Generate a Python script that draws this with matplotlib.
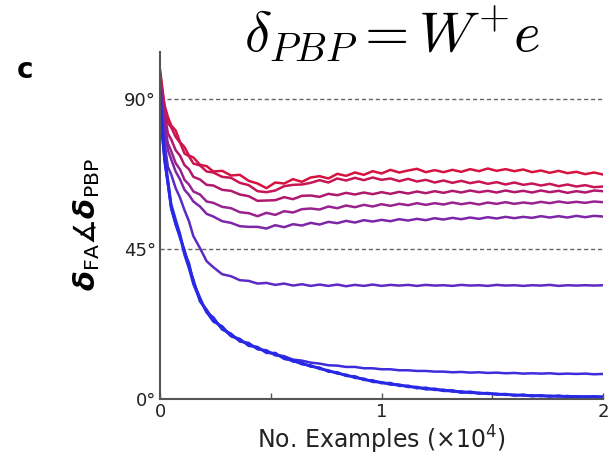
import matplotlib
matplotlib.use("Agg")
import matplotlib.pyplot as plt

# sample positions along the x axis (units of 10^4 examples)
x = [0, 0.01, 0.02, 0.035, 0.05, 0.07, 0.09, 0.11, 0.13, 0.15, 0.18, 0.21, 0.24,
     0.28, 0.32, 0.36, 0.40, 0.44, 0.48, 0.52, 0.56, 0.60, 0.64, 0.68, 0.72, 0.76,
     0.80, 0.84, 0.88, 0.92, 0.96, 1.00, 1.04, 1.08, 1.12, 1.16, 1.20, 1.24, 1.28,
     1.32, 1.36, 1.40, 1.44, 1.48, 1.52, 1.56, 1.60, 1.64, 1.68, 1.72, 1.76, 1.80,
     1.84, 1.88, 1.92, 1.96, 2.00]

# angle (degrees) for each run, top to bottom
run1 = [98.5, 93, 88, 84.5, 82, 80.5, 77, 75.5, 73, 72.4, 70.2, 69.8, 68.2,
        68.4, 67.0, 67.2, 65.4, 64.6, 63.2, 64.9, 64.6, 65.9, 65.1, 66.4, 66.8, 66.1,
        67.5, 66.9, 67.9, 67.2, 68.3, 67.6, 68.7, 67.9, 68.5, 69.0, 68.0, 68.6, 68.0,
        68.7, 68.1, 68.9, 68.3, 69.1, 68.4, 68.9, 68.3, 68.8, 68.0, 68.5, 67.8, 68.4,
        67.7, 68.1, 67.4, 67.9, 67.3]
run2 = [97.5, 92, 87.5, 82.8, 81.4, 78.6, 76.8, 73.6, 72.8, 70.6, 70.0, 68.2, 67.9,
        66.6, 66.3, 64.8, 64.1, 62.3, 62.0, 62.5, 63.8, 64.2, 64.3, 64.8, 65.6, 64.9,
        66.1, 65.5, 66.3, 65.6, 66.4, 65.7, 66.1, 65.3, 66.0, 65.2, 65.7, 64.9, 65.5,
        64.8, 65.4, 64.7, 65.2, 64.5, 65.0, 64.3, 64.9, 64.2, 64.6, 64.0, 64.5, 63.8,
        64.3, 63.7, 64.1, 63.5, 63.7]
run3 = [97, 90, 85.5, 79.6, 77.8, 74.6, 72.9, 70.1, 68.9, 66.6, 65.8, 64.2, 64.0,
        62.7, 62.4, 61.3, 60.8, 59.4, 59.5, 59.6, 60.5, 59.9, 60.9, 61.0, 60.6, 61.5,
        61.1, 61.8, 61.3, 61.9, 61.4, 62.0, 61.5, 62.1, 61.6, 62.2, 61.7, 62.3, 61.8,
        62.4, 61.9, 62.5, 62.0, 62.4, 61.9, 62.5, 62.0, 62.4, 61.9, 62.5, 62.0, 62.4,
        61.8, 62.3, 61.9, 62.5, 62.3]
run4 = [96, 88, 82.4, 76.6, 74.3, 70.7, 68.8, 65.7, 64.3, 62.2, 61.3, 59.2, 58.8,
        57.6, 57.2, 56.0, 55.7, 54.8, 55.8, 55.2, 56.3, 55.9, 56.9, 57.1, 56.8, 57.7,
        57.2, 58.0, 57.5, 58.2, 57.7, 58.4, 57.9, 58.5, 58.1, 58.7, 58.2, 58.7, 58.3,
        58.9, 58.4, 58.8, 58.3, 58.9, 58.5, 59.0, 58.5, 58.9, 58.6, 59.1, 58.7, 59.2,
        58.8, 59.1, 58.8, 59.2, 59.0]
run5 = [95, 86, 80.3, 74.6, 71.8, 68.2, 65.8, 62.7, 61.2, 59.2, 57.7, 55.5, 54.7,
        53.3, 52.8, 51.8, 51.6, 51.6, 51.1, 52.1, 51.5, 52.4, 52.0, 52.8, 52.3, 53.1,
        52.7, 53.4, 52.9, 53.6, 53.2, 53.7, 53.3, 53.9, 53.5, 54.0, 53.6, 54.2, 53.8,
        54.3, 53.9, 54.4, 54.0, 54.5, 54.1, 54.6, 54.2, 54.6, 54.3, 54.8, 54.4, 54.8,
        54.4, 54.9, 54.5, 54.9, 54.7]
run6 = [94, 84, 76.5, 69.6, 67.3, 63.2, 60.3, 56.6, 53.3, 48.8, 45.2, 41.3, 39.5,
        37.4, 36.8, 35.6, 35.4, 34.6, 34.8, 34.2, 34.6, 34.0, 34.4, 33.9, 34.3, 33.9,
        34.3, 33.8, 34.2, 33.9, 34.3, 33.9, 34.2, 34.0, 34.2, 33.9, 34.2, 34.0, 34.1,
        33.9, 34.2, 34.0, 34.1, 33.9, 34.2, 34.0, 34.1, 33.9, 34.1, 34.0, 34.2, 33.9,
        34.1, 34.0, 34.1, 34.0, 34.1]
run7 = [91, 80, 72.5, 65.2, 57.6, 53.3, 48.9, 44.2, 40.3, 35.3, 29.8, 26.3, 24.2,
        21.0, 19.3, 17.4, 16.6, 15.0, 14.4, 13.2, 12.8, 11.8, 11.5, 10.9, 10.6, 10.1,
        10.0, 9.6, 9.6, 9.2, 9.2, 8.9, 8.9, 8.6, 8.6, 8.4, 8.4, 8.2, 8.2, 8.0,
        8.1, 7.9, 8.0, 7.8, 7.9, 7.7, 7.8, 7.6, 7.7, 7.6, 7.7, 7.5, 7.6, 7.5,
        7.6, 7.4, 7.5]
run8 = [90, 79, 71.8, 64.6, 57.0, 52.6, 48.2, 44.6, 39.6, 35.8, 29.2, 26.8, 23.6,
        21.4, 18.8, 17.8, 16.2, 15.4, 14.0, 13.5, 12.2, 11.6, 10.4, 10.1, 9.0, 8.6,
        7.6, 7.3, 6.3, 6.1, 5.1, 5.0, 4.3, 4.2, 3.6, 3.5, 2.9, 2.9, 2.4, 2.4,
        1.9, 2.0, 1.6, 1.7, 1.3, 1.4, 1.0, 1.2, 0.8, 1.0, 0.7, 0.9, 0.6, 0.8,
        0.5, 0.8, 0.5]
run9 = [92, 81, 73.2, 65.8, 58.4, 53.8, 49.4, 43.8, 40.8, 35.0, 30.4, 25.9, 24.5,
        20.8, 19.6, 17.2, 16.8, 14.9, 14.6, 13.1, 12.8, 11.2, 10.9, 9.7, 9.4, 8.2,
        8.0, 6.9, 6.8, 5.7, 5.6, 4.7, 4.8, 3.9, 4.0, 3.2, 3.4, 2.7, 2.8, 2.2,
        2.3, 1.8, 1.9, 1.5, 1.6, 1.2, 1.3, 1.0, 1.1, 0.8, 1.0, 0.7, 0.9, 0.6,
        0.8, 0.6, 0.7]
run10 = [89, 78.5, 71.2, 64.2, 57.2, 52.2, 48.6, 43.2, 39.2, 34.4, 29.6, 26.0, 23.2,
         21.8, 18.9, 18.0, 15.9, 15.6, 13.8, 13.8, 12.0, 11.5, 10.6, 9.8, 9.3, 8.3,
         7.9, 7.0, 6.6, 5.8, 5.4, 5.0, 4.5, 4.3, 3.7, 3.6, 3.0, 3.1, 2.5, 2.6,
         2.0, 2.2, 1.7, 1.8, 1.4, 1.5, 1.1, 1.3, 0.9, 1.1, 0.8, 1.0, 0.7, 0.8,
         0.6, 0.7, 0.6]

runs = [run1, run2, run3, run4, run5, run6, run7, run8, run9, run10]
colors = ['#d8123e', '#c81556', '#b0186e', '#982290', '#7e26a8', '#5c2ac4',
          '#3c2cdc', '#2a2ae4', '#2c2ee2', '#2828e6']

yticks = [0, 45, 90]
ytick_labels = ['0°', '45°', '90°']
xticks = [0, 0.5, 1, 1.5, 2]
xtick_labels = ['0', '', '1', '', '2']

fig = plt.figure(figsize=(6.09, 4.57), dpi=100)
ax = fig.add_axes([0.263, 0.127, 0.727, 0.759])

for yv in [45, 90]:
    ax.axhline(yv, color='#666666', lw=1.0, ls=(0, (3, 2)), zorder=1)

for r, c in zip(runs, colors):
    ax.plot(x, r, color=c, lw=1.8, zorder=2)

ax.set_xlim(0, 2)
ax.set_ylim(0, 104)
ax.set_yticks(yticks)
ax.set_yticklabels(ytick_labels)
ax.set_xticks(xticks)
ax.set_xticklabels(xtick_labels)
ax.tick_params(direction='in', length=4, width=1, colors='#555555',
               labelcolor='#222222', labelsize=13, pad=3)
ax.tick_params(axis='y', length=0)
for s in ['top', 'right']:
    ax.spines[s].set_visible(False)
for s in ['left', 'bottom']:
    ax.spines[s].set_color('#555555')
    ax.spines[s].set_linewidth(1.5)

ax.set_xlabel('No. Examples (×10$^4$)', fontsize=17, color='#222222', labelpad=2)

fig.text(0.143, 0.508,
         r'$\boldsymbol{\delta}_{\mathrm{FA}}\measuredangle\boldsymbol{\delta}_{\mathrm{PBP}}$',
         rotation=90, ha='center', va='center', fontsize=21, math_fontfamily='dejavusans')
fig.text(0.643, 0.925, r'$\delta_{PBP} = W^{+}e$', ha='center', va='center',
         fontsize=41, math_fontfamily='cm')
fig.text(0.041, 0.847, 'c', ha='center', va='center', fontsize=20, fontweight='bold')

fig.savefig('out.png', dpi=100)
